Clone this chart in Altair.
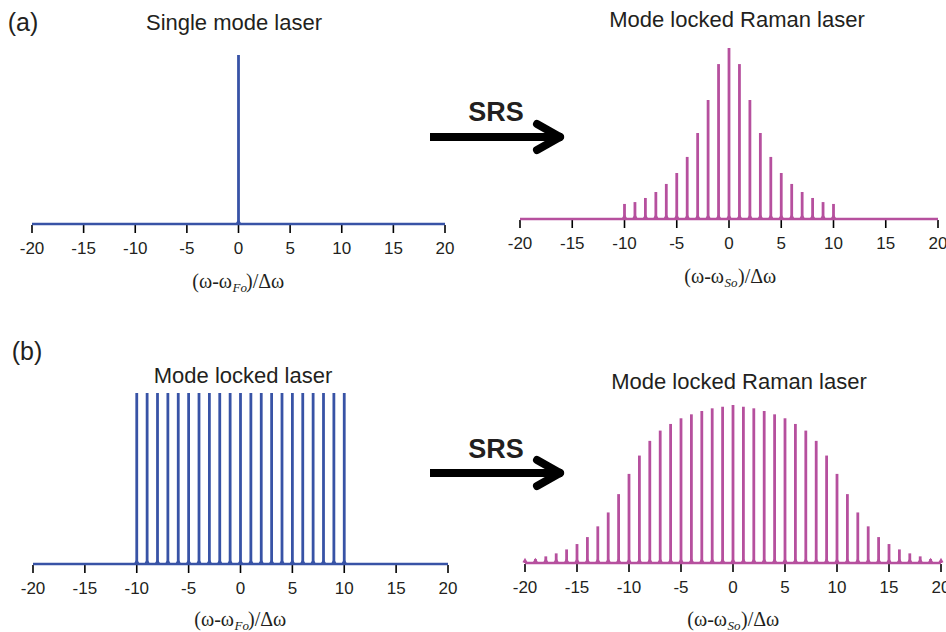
import altair as alt
import pandas as pd

# ---- spectra: mode index and normalised peak intensity ----
single_modes = [0]
single_heights = [1.0]

raman_a_modes = list(range(-10, 11))
raman_a_heights = [0.088, 0.099, 0.123, 0.158, 0.205, 0.269, 0.363, 0.503, 0.696, 0.906, 1.0,
                   0.906, 0.696, 0.503, 0.363, 0.269, 0.205, 0.158, 0.123, 0.099, 0.088]

locked_modes = list(range(-10, 11))
locked_heights = [1.0] * 21

raman_b_modes = list(range(-20, 21))
raman_b_heights = [0.011, 0.025, 0.042, 0.061, 0.086, 0.120, 0.164, 0.232, 0.320, 0.436,
                   0.564, 0.680, 0.773, 0.838, 0.880, 0.916, 0.941, 0.962, 0.979, 0.989,
                   1.0,
                   0.989, 0.979, 0.962, 0.941, 0.916, 0.880, 0.838, 0.773, 0.680, 0.564,
                   0.436, 0.320, 0.232, 0.164, 0.120, 0.086, 0.061, 0.042, 0.025, 0.011]

tick_values = [-20, -15, -10, -5, 0, 5, 10, 15, 20]
x_span = [-20, 20]

BLUE = "#3853a6"
MAGENTA = "#b6509e"
SANS = "Liberation Sans"
SERIF = "Liberation Serif"
TEXT = "#231f20"


def spectrum(modes, heights, x0, x1, base, top, color):
    xs = alt.Scale(domain=x_span, range=[x0, x1], nice=False, zero=False)
    ys = alt.Scale(domain=[0, 1], range=[base, top], nice=False, zero=False)
    peaks = pd.DataFrame({"mode": modes, "h": heights, "z": 0.0})
    line = pd.DataFrame({"lo": [x_span[0]], "hi": [x_span[1]], "z": [0.0]})
    ticks = pd.DataFrame({"tick": tick_values, "label": [str(t) for t in tick_values]})

    baseline = alt.Chart(line).mark_rule(color=color, strokeWidth=2.5).encode(
        x=alt.X("lo:Q", scale=xs, axis=None), x2="hi:Q",
        y=alt.Y("z:Q", scale=ys, axis=None))
    tick_marks = alt.Chart(ticks).mark_rule(color="black", strokeWidth=1.6).encode(
        x=alt.X("tick:Q", scale=xs, axis=None),
        y=alt.value(base + 1), y2=alt.value(base + 9))
    tick_labels = alt.Chart(ticks).mark_text(
        font=SANS, fontSize=17, color=TEXT, baseline="middle").encode(
        x=alt.X("tick:Q", scale=xs, axis=None), y=alt.value(base + 25), text="label:N")
    feet = alt.Chart(peaks).mark_point(
        shape="triangle-up", filled=True, size=26, color=color, opacity=1, yOffset=-3).encode(
        x=alt.X("mode:Q", scale=xs, axis=None), y=alt.Y("z:Q", scale=ys, axis=None))
    spikes = alt.Chart(peaks).mark_rule(color=color, strokeWidth=2.8).encode(
        x=alt.X("mode:Q", scale=xs, axis=None),
        y=alt.Y("h:Q", scale=ys, axis=None), y2="z:Q")
    return [tick_marks, baseline, feet, spikes, tick_labels]


def label(text, x, y, size, font=SANS, **kw):
    return alt.Chart(pd.DataFrame({"t": [text]})).mark_text(
        font=font, fontSize=size, color=TEXT, **kw).encode(
        text="t:N", x=alt.value(x), y=alt.value(y))


def axis_title(sub, cx, y):
    xs = cx - 6
    return [
        label("(ω-ω", xs, y, 20, font=SERIF, align="right", baseline="alphabetic"),
        label(sub, xs + 0.5, y + 4, 13, font=SERIF, fontStyle="italic",
              align="left", baseline="alphabetic"),
        label(")/Δω", xs + 14, y, 20, font=SERIF, align="left", baseline="alphabetic"),
    ]


def arrow(y):
    one = pd.DataFrame({"k": [0]})
    shaft = alt.Chart(one).mark_rule(color="black", strokeWidth=8).encode(
        x=alt.value(430), x2=alt.value(556), y=alt.value(y))
    upper = alt.Chart(one).mark_rule(color="black", strokeWidth=8, strokeCap="round").encode(
        x=alt.value(537), y=alt.value(y - 13), x2=alt.value(560), y2=alt.value(y))
    lower = alt.Chart(one).mark_rule(color="black", strokeWidth=8, strokeCap="round").encode(
        x=alt.value(537), y=alt.value(y + 13), x2=alt.value(560), y2=alt.value(y))
    return [shaft, upper, lower]


layers = []
layers += spectrum(single_modes, single_heights, 32, 445, 224, 55, BLUE)
layers += spectrum(raman_a_modes, raman_a_heights, 520, 938, 219, 48, MAGENTA)
layers += spectrum(locked_modes, locked_heights, 33, 448, 564, 393, BLUE)
layers += spectrum(raman_b_modes, raman_b_heights, 525, 941, 563, 405, MAGENTA)

layers += axis_title("Fo", 238, 288)
layers += axis_title("So", 730, 283)
layers += axis_title("Fo", 240, 626)
layers += axis_title("So", 733, 626)

layers += [
    label("(a)", 23, 23, 25, baseline="middle"),
    label("(b)", 27, 352, 25, baseline="middle"),
    label("Single mode laser", 234, 23, 22, baseline="middle"),
    label("Mode locked Raman laser", 737, 20, 22, baseline="middle"),
    label("Mode locked laser", 243, 376, 22, baseline="middle"),
    label("Mode locked Raman laser", 739, 382, 22, baseline="middle"),
    label("SRS", 496, 113, 27, fontWeight="bold", baseline="middle"),
    label("SRS", 496, 450, 27, fontWeight="bold", baseline="middle"),
]
layers += arrow(137)
layers += arrow(473)

chart = alt.layer(*layers).resolve_scale(
    x="independent", y="independent"
).properties(
    width=946, height=632, autosize=alt.AutoSizeParams(type="none"), padding=0,
    background="white"
).configure_view(stroke=None)

chart.save("out.html", embed_options={"renderer": "svg", "actions": False})
